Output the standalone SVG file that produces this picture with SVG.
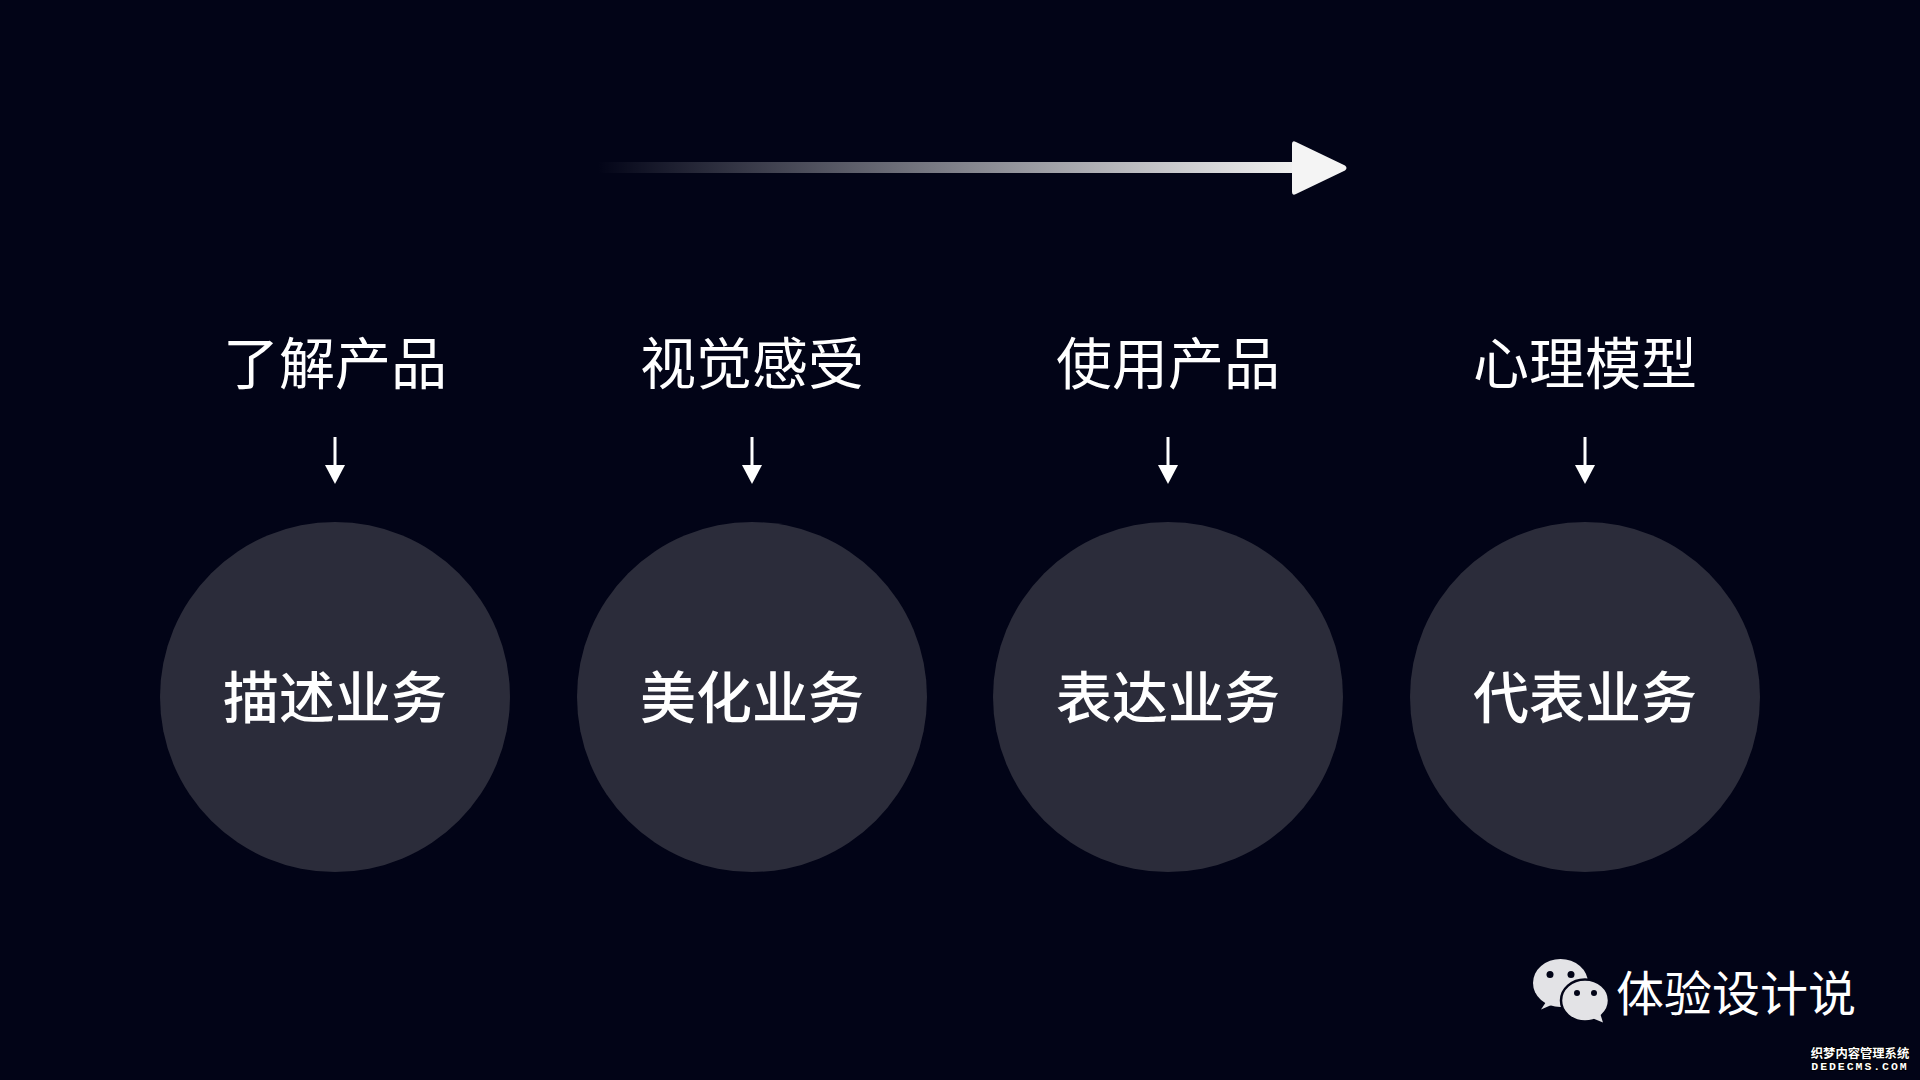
<svg xmlns="http://www.w3.org/2000/svg" width="1920" height="1080" viewBox="0 0 1920 1080">
<style>
.t{font-family:"Noto Sans CJK SC","Liberation Sans",sans-serif;text-anchor:middle;fill:#fff}
.top{font-size:56px;font-weight:400}
.in{font-size:56px;font-weight:500}
.c{fill:#2b2c3a}
.s{stroke:#fff;stroke-width:3;fill:none}
.h{fill:#fff}
.b{fill:#e3e3e6}
.e{fill:#020417}
.wm{font-family:"Noto Sans CJK SC","Liberation Mono",monospace;fill:#fff;stroke:#000;stroke-width:1.500;paint-order:stroke;font-weight:700;text-anchor:middle}
</style>
<defs>
<linearGradient id="g" x1="0" x2="1" y1="0" y2="0"><stop offset="0" stop-color="#fff" stop-opacity="0"/><stop offset="1" stop-color="#f0f0f0"/></linearGradient>
</defs>
<rect width="1920" height="1080" fill="#020417"/>
<g id="connectors">
<rect x="598" y="162" width="696" height="11" fill="url(#g)"/>
<path d="M1296 142L1345 165.500Q1348 168 1345 170.500L1296 194Q1292 196 1292 192V144Q1292 140 1296 142Z" fill="#f4f4f4"/>
<g id="down-arrows">
<path class="s" d="M335 437V465"/><path class="h" d="M325 465H345L335 484Z"/>
<path class="s" d="M752 437V465"/><path class="h" d="M742 465H762L752 484Z"/>
<path class="s" d="M1168 437V465"/><path class="h" d="M1158 465H1178L1168 484Z"/>
<path class="s" d="M1585 437V465"/><path class="h" d="M1575 465H1595L1585 484Z"/>
</g>
</g>
<g id="node-1"><text class="t top" x="335" y="384">了解产品</text><circle class="c" cx="335" cy="697" r="175"/><text class="t in" x="335" y="718">描述业务</text></g>
<g id="node-2"><text class="t top" x="752" y="384">视觉感受</text><circle class="c" cx="752" cy="697" r="175"/><text class="t in" x="752" y="718">美化业务</text></g>
<g id="node-3"><text class="t top" x="1168" y="384">使用产品</text><circle class="c" cx="1168" cy="697" r="175"/><text class="t in" x="1168" y="718">表达业务</text></g>
<g id="node-4"><text class="t top" x="1585" y="384">心理模型</text><circle class="c" cx="1585" cy="697" r="175"/><text class="t in" x="1585" y="718">代表业务</text></g>
<g id="brand">
<ellipse class="b" cx="1560.500" cy="983" rx="27.500" ry="24"/>
<path class="b" d="M1546 1002L1541 1009.500L1556 1003Z"/>
<circle class="e" cx="1550" cy="974.500" r="3.500"/><circle class="e" cx="1571" cy="974.500" r="3.500"/>
<ellipse class="b" cx="1585" cy="1000.500" rx="24" ry="21" stroke="#020417" stroke-width="2.500"/>
<path class="b" d="M1592 1018L1603 1022.500L1600 1013Z"/>
<circle class="e" cx="1577" cy="993" r="3"/><circle class="e" cx="1594" cy="993" r="3"/>
<text class="t" x="1736" y="1011" font-size="48">体验设计说</text>
</g>
<g id="site-mark">
<text class="wm" x="1860" y="1058" font-size="12.300">织梦内容管理系统</text>
<text class="wm" x="1860" y="1070" font-size="11.500" letter-spacing="1.950" style="font-family:'Liberation Mono',monospace">DEDECMS.COM</text>
</g>
</svg>
